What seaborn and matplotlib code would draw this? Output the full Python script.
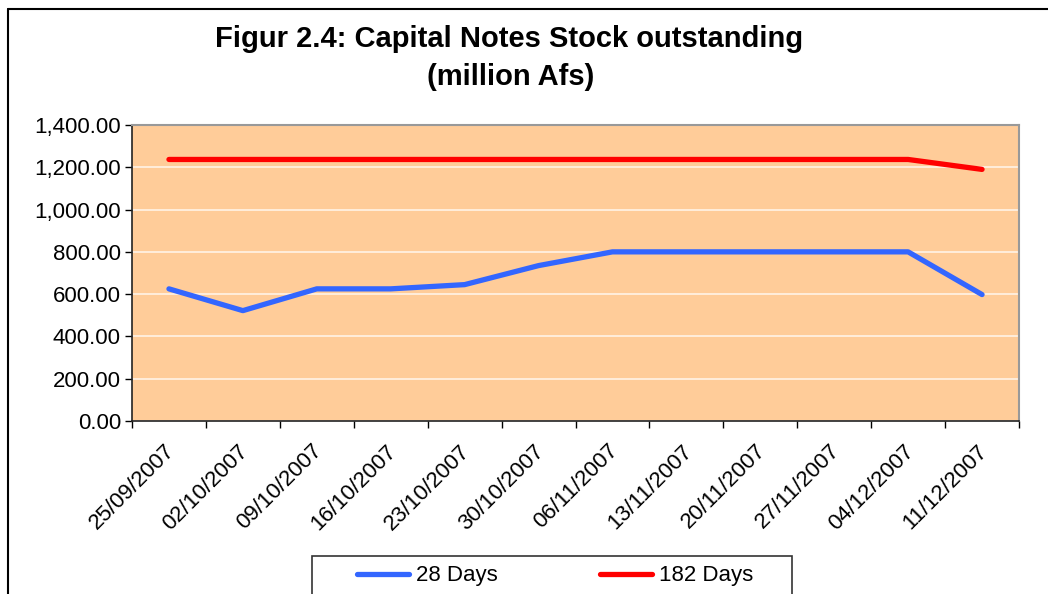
import matplotlib
matplotlib.use("Agg")
import matplotlib.pyplot as plt
import seaborn as sns
import pandas as pd
import numpy as np
from matplotlib.patches import Rectangle
from matplotlib.ticker import FuncFormatter, FixedLocator
import matplotlib.transforms as mtrans

dates = ["25/09/2007", "02/10/2007", "09/10/2007", "16/10/2007", "23/10/2007",
         "30/10/2007", "06/11/2007", "13/11/2007", "20/11/2007", "27/11/2007",
         "04/12/2007", "11/12/2007"]
days28 = [625, 522, 625, 625, 645, 735, 800, 800, 800, 800, 800, 598]
days182 = [1237, 1237, 1237, 1237, 1237, 1237, 1237, 1237, 1237, 1237, 1237, 1190]
series_names = ["28 Days", "182 Days"]
colors = ["#3366FF", "#FF0000"]

idx = np.arange(len(dates))
df = pd.DataFrame({
    "pos": np.concatenate([idx, idx]),
    "value": days28 + days182,
    "series": [series_names[0]] * len(dates) + [series_names[1]] * len(dates),
})

sns.set_theme(style="white")
plt.rcParams["font.family"] = ["Liberation Sans", "DejaVu Sans"]
plt.rcParams["text.color"] = "black"
plt.rcParams["xtick.color"] = "black"
plt.rcParams["ytick.color"] = "black"
plt.rcParams["xtick.labelcolor"] = "black"
plt.rcParams["ytick.labelcolor"] = "black"

W, H = 1048, 594
fig = plt.figure(figsize=(W / 100, H / 100), dpi=100)
ax = fig.add_axes([132 / W, 1 - 421 / H, (1019 - 132) / W, (421 - 125) / H])
ax.set_facecolor("#FFCC99")

sns.lineplot(data=df, x="pos", y="value", hue="series", palette=colors,
             hue_order=series_names, linewidth=3.8, ax=ax, legend=False,
             solid_capstyle="round", zorder=3)

ax.set_xlim(-0.5, len(dates) - 0.5)
ax.set_ylim(0, 1400)
ax.set_yticks(np.arange(0, 1401, 200))
ax.yaxis.set_major_formatter(FuncFormatter(lambda v, p: f"{v:,.2f}"))
ax.grid(axis="y", color="#FFF3E6", linewidth=1.2, zorder=1)
ax.grid(axis="x", visible=False)
ax.set_axisbelow(True)

# tick marks at category boundaries, labels at centres
bounds = np.arange(-0.5, len(dates), 1.0)
ax.xaxis.set_major_locator(FixedLocator(bounds))
ax.set_xticklabels([""] * len(bounds))
ax.set_xticks(idx, minor=True)
ax.set_xticklabels(dates, minor=True, rotation=45, ha="right", va="top",
                   rotation_mode="anchor", fontsize=16)
ax.tick_params(axis="x", which="major", direction="out", length=5, width=1,
               color="black", bottom=True)
ax.tick_params(axis="x", which="minor", length=0, pad=14)
ax.tick_params(axis="y", direction="out", length=5, width=1, color="black",
               left=True, labelsize=16, pad=3)
for lab in ax.get_xticklabels(minor=True):
    lab.set_transform(lab.get_transform() + mtrans.ScaledTranslation(-5 / 100, 0, fig.dpi_scale_trans))

ax.set_xlabel("")
ax.set_ylabel("")
for s in ["left", "bottom"]:
    ax.spines[s].set_color("#222222")
    ax.spines[s].set_linewidth(1.2)
for s in ["top", "right"]:
    ax.spines[s].set_color("#999999")
    ax.spines[s].set_linewidth(1.5)

# titles
fig.text(509 / W, 1 - 39 / H, "Figur 2.4: Capital Notes Stock outstanding",
         ha="center", va="center", fontsize=21, fontweight="bold")
fig.text(511 / W, 1 - 77 / H, "(million Afs)",
         ha="center", va="center", fontsize=21, fontweight="bold")

# figure border (top and left)
fig.add_artist(plt.Line2D([8 / W, 8 / W], [0, 1 - 8.5 / H], transform=fig.transFigure,
                          color="black", linewidth=1.5))
fig.add_artist(plt.Line2D([8 / W, 1.0], [1 - 8.5 / H, 1 - 8.5 / H], transform=fig.transFigure,
                          color="black", linewidth=1.5))

# legend box
fig.add_artist(Rectangle((312 / W, -0.05), (792 - 312) / W, 0.05 + (594 - 556) / H,
                         transform=fig.transFigure, facecolor="white",
                         edgecolor="#333333", linewidth=1.2))
handles = [plt.Line2D([], [], color=c, linewidth=3.8, solid_capstyle="round") for c in colors]
fig.legend(handles, series_names, loc="center", bbox_to_anchor=(555 / W, 1 - 576 / H),
           ncol=2, frameon=False, fontsize=16, handlelength=2.35,
           handletextpad=0.3, columnspacing=4.6)

fig.savefig("out.png", dpi=100)
